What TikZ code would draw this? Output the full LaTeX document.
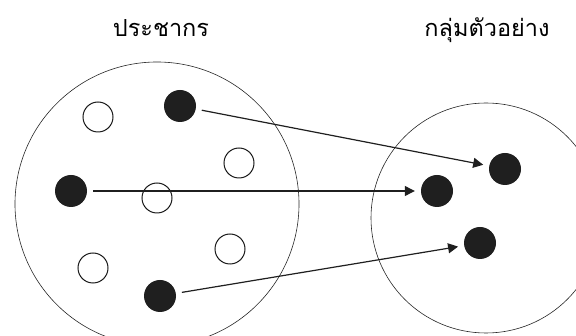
\documentclass[tikz,border=0pt]{standalone}
\usepackage{fontspec}
\newfontfamily\thaifont[Script=Thai]{Loma}
\usepackage{tikz}
\usetikzlibrary{arrows.meta}

\begin{document}
\begin{tikzpicture}[
    x=1pt, y=-1pt,
    group/.style={circle, draw=black!85, line width=0.6pt, inner sep=0pt},
    member/.style={circle, draw=black!90, line width=1pt, minimum size=30pt, inner sep=0pt},
    chosen/.style={circle, fill=black!88, minimum size=32pt, inner sep=0pt},
    title/.style={font=\thaifont\fontsize{23.5}{28}\selectfont, anchor=base},
    arrow/.style={-{Triangle[length=10pt, width=10pt]}, line width=1.2pt, black!88, shorten <=6pt, shorten >=6pt}
]
    \useasboundingbox (0,0) rectangle (576,336);

    % Groups
    \node[group, minimum size=284pt] (population) at (157,204) {};
    \node[group, minimum size=230pt] (sample) at (486,218) {};

    % Titles
    \node[title] (poptitle) at (161,37) {ประชากร};
    \node[title] (sampletitle) at (487,37) {กลุ่มตัวอย่าง};

    % Population members
    \node[member] (m1) at (98,117) {};
    \node[member] (m2) at (239,163) {};
    \node[member] (m3) at (157,198) {};
    \node[member] (m4) at (230,249) {};
    \node[member] (m5) at (93,268) {};
    \node[chosen] (p1) at (180,106) {};
    \node[chosen] (p2) at (71,191) {};
    \node[chosen] (p3) at (160,296) {};

    % Sample members
    \node[chosen] (s1) at (505,169) {};
    \node[chosen] (s2) at (437,191) {};
    \node[chosen] (s3) at (480,243) {};

    % Arrows
    \draw[arrow] (p1) -- (s1);
    \draw[arrow] (p2) -- (s2);
    \draw[arrow] (p3) -- (s3);

\end{tikzpicture}
\end{document}
